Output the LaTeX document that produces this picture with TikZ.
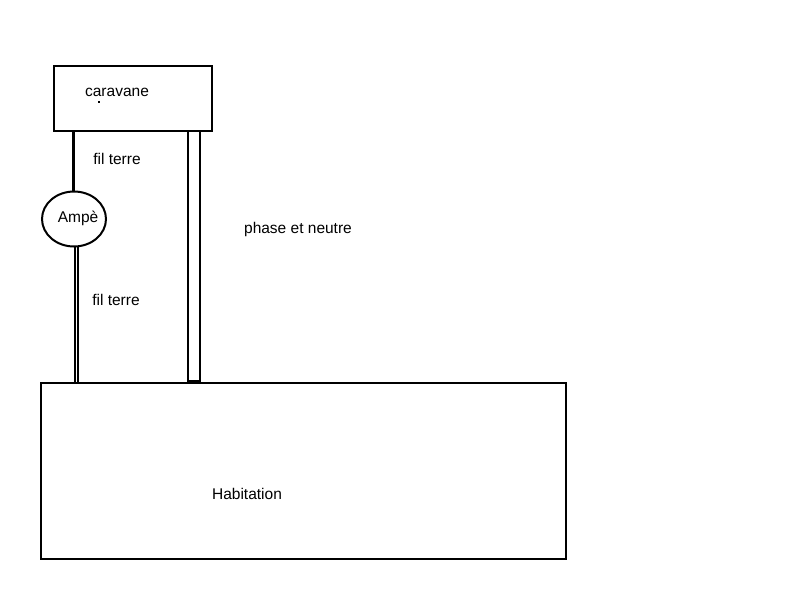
\documentclass[tikz,border=0pt]{standalone}
\usepackage{fontspec}
\setmainfont{Liberation Sans}
\usetikzlibrary{shapes.geometric}
\begin{document}
\begin{tikzpicture}[x=1pt,y=-1pt,
  box/.style={draw,line width=2pt},
  lbl/.style={font=\fontsize{15.5}{18}\selectfont,inner sep=0pt},
  wire/.style={line width=3pt}]
\useasboundingbox (0,0) rectangle (800,600);
\node[box,minimum width=158pt,minimum height=65pt,inner sep=0pt] (car) at (133,98.5) {};
\node[box,minimum width=525pt,minimum height=176pt,inner sep=0pt] (hab) at (303.5,471) {};
\node[draw,line width=2pt,ellipse,minimum width=64pt,minimum height=55pt,inner sep=0pt] (amp) at (74,219) {};
\node[lbl] (tcar) at (117,92) {caravane};
\node[lbl] (tamp) at (78,218) {Ampè};
\node[lbl] (tf1) at (117,159) {fil terre};
\node[lbl] (tf2) at (116,300) {fil terre};
\node[lbl] (tpn) at (298,229) {phase et neutre};
\node[lbl] (thab) at (247,494) {Habitation};
\fill (98,100.5) rectangle (100,102.5);
% fil terre top
\draw[wire] (73,131) -- (amp.north -| 73,0);
% fil terre bottom (double)
\draw[line width=2pt] (74.5,246.5) -- (74.5,382);
\draw[line width=2pt] (77.5,246.5) -- (77.5,382);
% phase et neutre
\draw[line width=2pt] (188,131) -- (188,382);
\draw[line width=2pt] (199.5,131) -- (199.5,382);
\draw[line width=2pt] (188,381) -- (199.5,381);
\end{tikzpicture}
\end{document}
